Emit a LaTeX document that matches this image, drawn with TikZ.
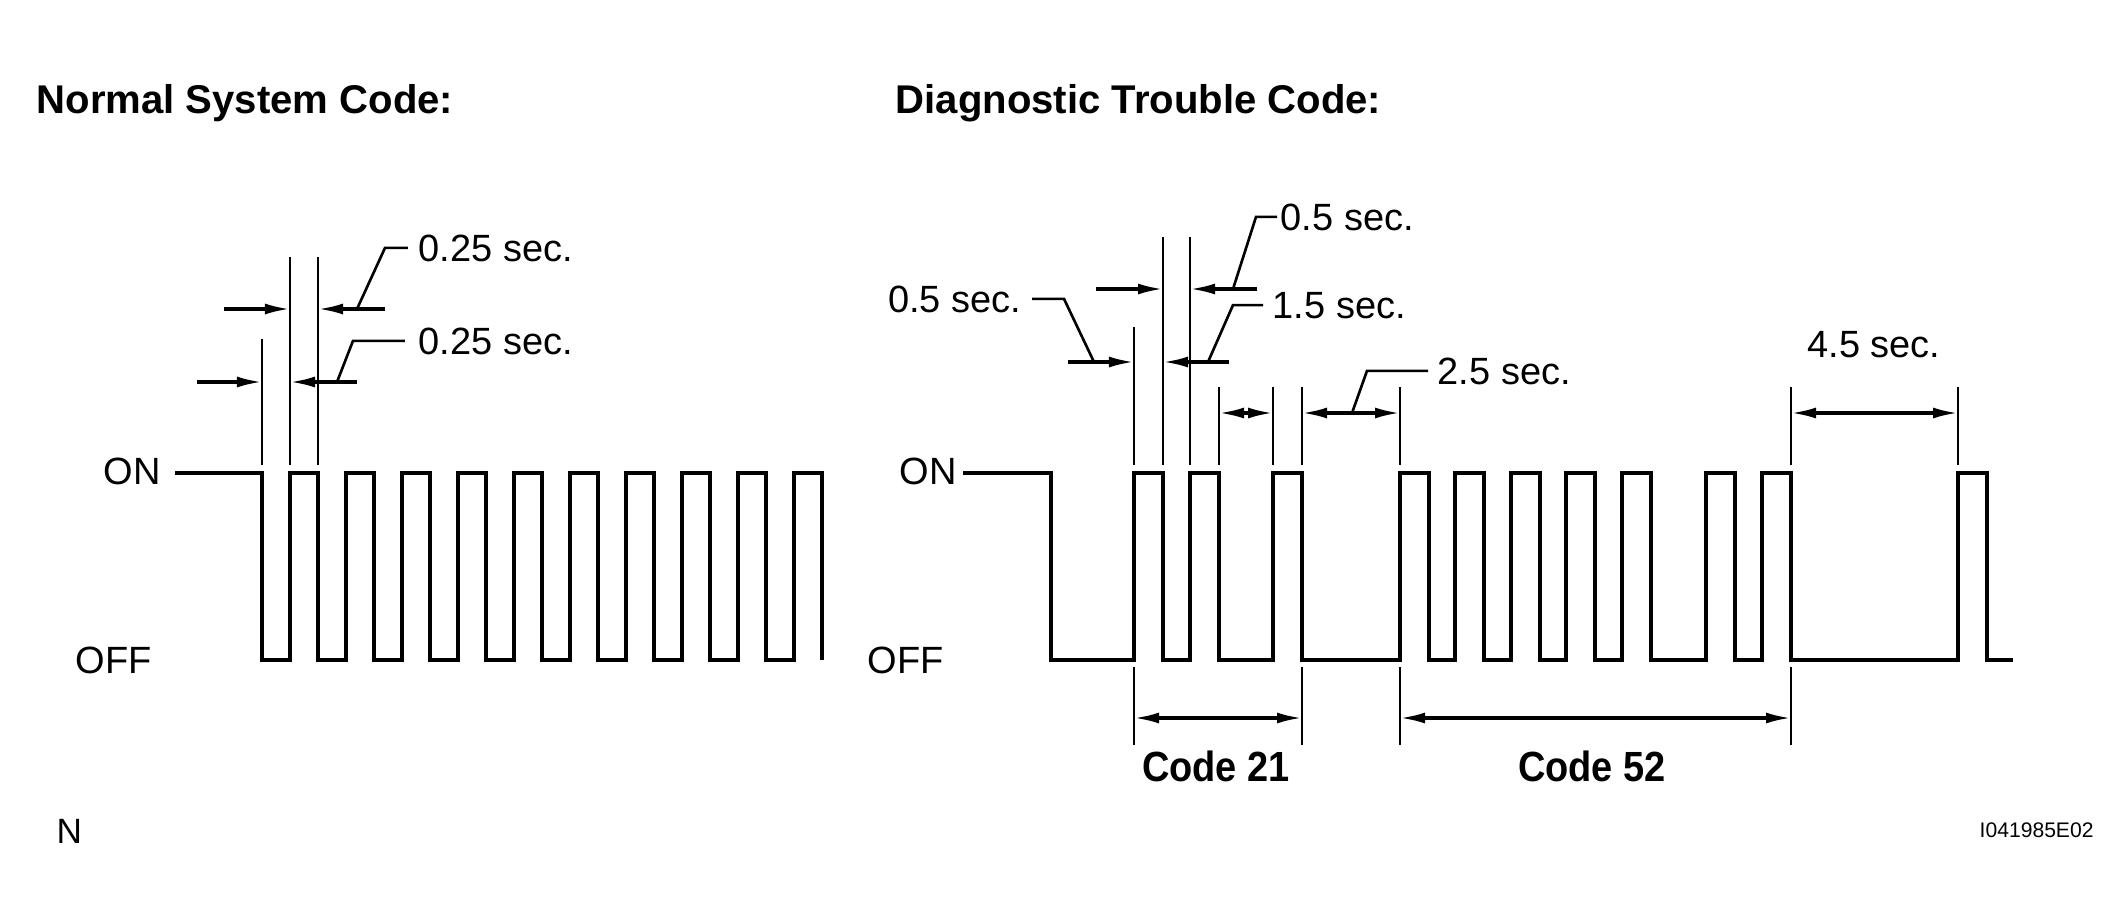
\documentclass[tikz,border=0pt]{standalone}
\usepackage{fontspec}
\usepackage{graphicx}
\setmainfont{Liberation Sans}
\usetikzlibrary{arrows.meta}

\begin{document}
\begin{tikzpicture}[x=0.01cm, y=-0.01cm,
    wavepath/.style={line width=1.2pt, line join=miter},
    extline/.style={line width=0.5pt},
    dimarr/.style={line width=0.9pt, -{Latex[length=2.5mm,width=1.1mm]}},
    dimboth/.style={line width=0.9pt, {Latex[length=2.5mm,width=1.1mm]}-{Latex[length=2.5mm,width=1.1mm]}},
    leader/.style={line width=0.75pt},
    lbl/.style={anchor=base west, inner sep=0pt, font=\fontsize{10.8}{13}\selectfont},
    ttl/.style={anchor=base west, inner sep=0pt, font=\bfseries\fontsize{11.4}{14}\selectfont},
    codelbl/.style={anchor=base, inner sep=0pt, font=\bfseries\fontsize{12}{14}\selectfont}]
    \useasboundingbox (0,0) rectangle (2124,918);

    % Titles
    \node[ttl] (tNormal) at (36,113) {Normal System Code:};
    \node[ttl] (tDiag) at (895,113) {Diagnostic Trouble Code:};

    % Normal system code: signal
    \node[lbl] (onL) at (103,484) {ON};
    \node[lbl] (offL) at (75,673) {OFF};
    \draw[wavepath] (175,473) -- (262,473) -- (262,660)
        \foreach \k in {1,...,10} { -- ++(28,0) -- ++(0,-187) -- ++(28,0) -- ++(0,187) };
    % extension lines
    \draw[extline] (262,339) -- (262,465);
    \foreach \x in {290,318} {
        \draw[extline] (\x,257) -- (\x,465);
    }
    % 0.25 sec. (ON)
    \draw[dimarr] (224,309) -- (290,309);
    \draw[dimarr] (385,309) -- (318,309);
    \node[lbl] (sOnA) at (418,261) {0.25 sec.};
    \draw[leader] (357,309) -- ([xshift=-0.33cm]sOnA.west) -- ([xshift=-0.1cm]sOnA.west);
    % 0.25 sec. (OFF)
    \draw[dimarr] (197,382) -- (262,382);
    \draw[dimarr] (357,382) -- (290,382);
    \node[lbl] (sOffA) at (418,354) {0.25 sec.};
    \draw[leader] (337,382) -- ([xshift=-0.65cm]sOffA.west) -- ([xshift=-0.13cm]sOffA.west);

    % Diagnostic trouble code: signal
    \node[lbl] (onR) at (899,484) {ON};
    \node[lbl] (offR) at (867,673) {OFF};
    \draw[wavepath] (963,473) -- (1051,473) -- (1051,660)
        \foreach \r in {1134,1190,1273,1400,1455,1511,1566,1622,1706,1762,1958} {
            -- (\r,660) -- (\r,473) -- ++(29,0) -- ++(0,187) } -- (2013,660);
    % extension lines
    \draw[extline] (1134,327) -- (1134,465);
    \foreach \x in {1163,1190} {
        \draw[extline] (\x,237) -- (\x,465);
    }
    \foreach \x in {1219,1273,1302,1400,1791,1958} {
        \draw[extline] (\x,387) -- (\x,465);
    }
    \foreach \x in {1134,1302,1400,1791} {
        \draw[extline] (\x,667) -- (\x,745);
    }
    % 0.5 sec. (upper)
    \draw[dimarr] (1096,289) -- (1163,289);
    \draw[dimarr] (1257,289) -- (1190,289);
    \node[lbl] (sHiB) at (1280,230) {0.5 sec.};
    \draw[leader] (1233,289) -- ([xshift=-0.24cm]sHiB.west) -- ([xshift=-0.03cm]sHiB.west);
    % 0.5 sec. and 1.5 sec. (lower)
    \draw[dimarr] (1068,362) -- (1134,362);
    \draw[dimarr] (1229,362) -- (1163,362);
    \node[lbl, anchor=base east] (sLoB) at (1022,312) {0.5 sec.};
    \draw[leader] (1094,362) -- ([xshift=0.42cm]sLoB.east) -- ([xshift=0.1cm]sLoB.east);
    \node[lbl] (sGapA) at (1272,318) {1.5 sec.};
    \draw[leader] (1208,362) -- ([xshift=-0.39cm]sGapA.west) -- ([xshift=-0.09cm]sGapA.west);
    % 1.5 sec. / 2.5 sec. gaps
    \draw[dimboth] (1219,413) -- (1273,413);
    \draw[dimboth] (1302,413) -- (1400,413);
    \node[lbl] (sGapB) at (1437,384) {2.5 sec.};
    \draw[leader] (1352,413) -- ([xshift=-0.7cm]sGapB.west) -- ([xshift=-0.09cm]sGapB.west);
    % 4.5 sec.
    \draw[dimboth] (1791,413) -- (1958,413);
    \node[lbl, anchor=base] (sGapC) at (1874,357) {4.5 sec.};

    % Code groups
    \draw[dimboth] (1134,718) -- (1302,718);
    \draw[dimboth] (1400,718) -- (1791,718);
    \node[codelbl] (codeA) at (1216,781) {\scalebox{0.9}[1]{Code 21}};
    \node[codelbl] (codeB) at (1592,781) {\scalebox{0.9}[1]{Code 52}};

    % Corner marks
    \node[lbl, font=\fontsize{10}{12}\selectfont] (mkN) at (56,843) {N};
    \node[lbl, font=\fontsize{6}{7}\selectfont] (mkId) at (1979,837) {I041985E02};
\end{tikzpicture}
\end{document}
